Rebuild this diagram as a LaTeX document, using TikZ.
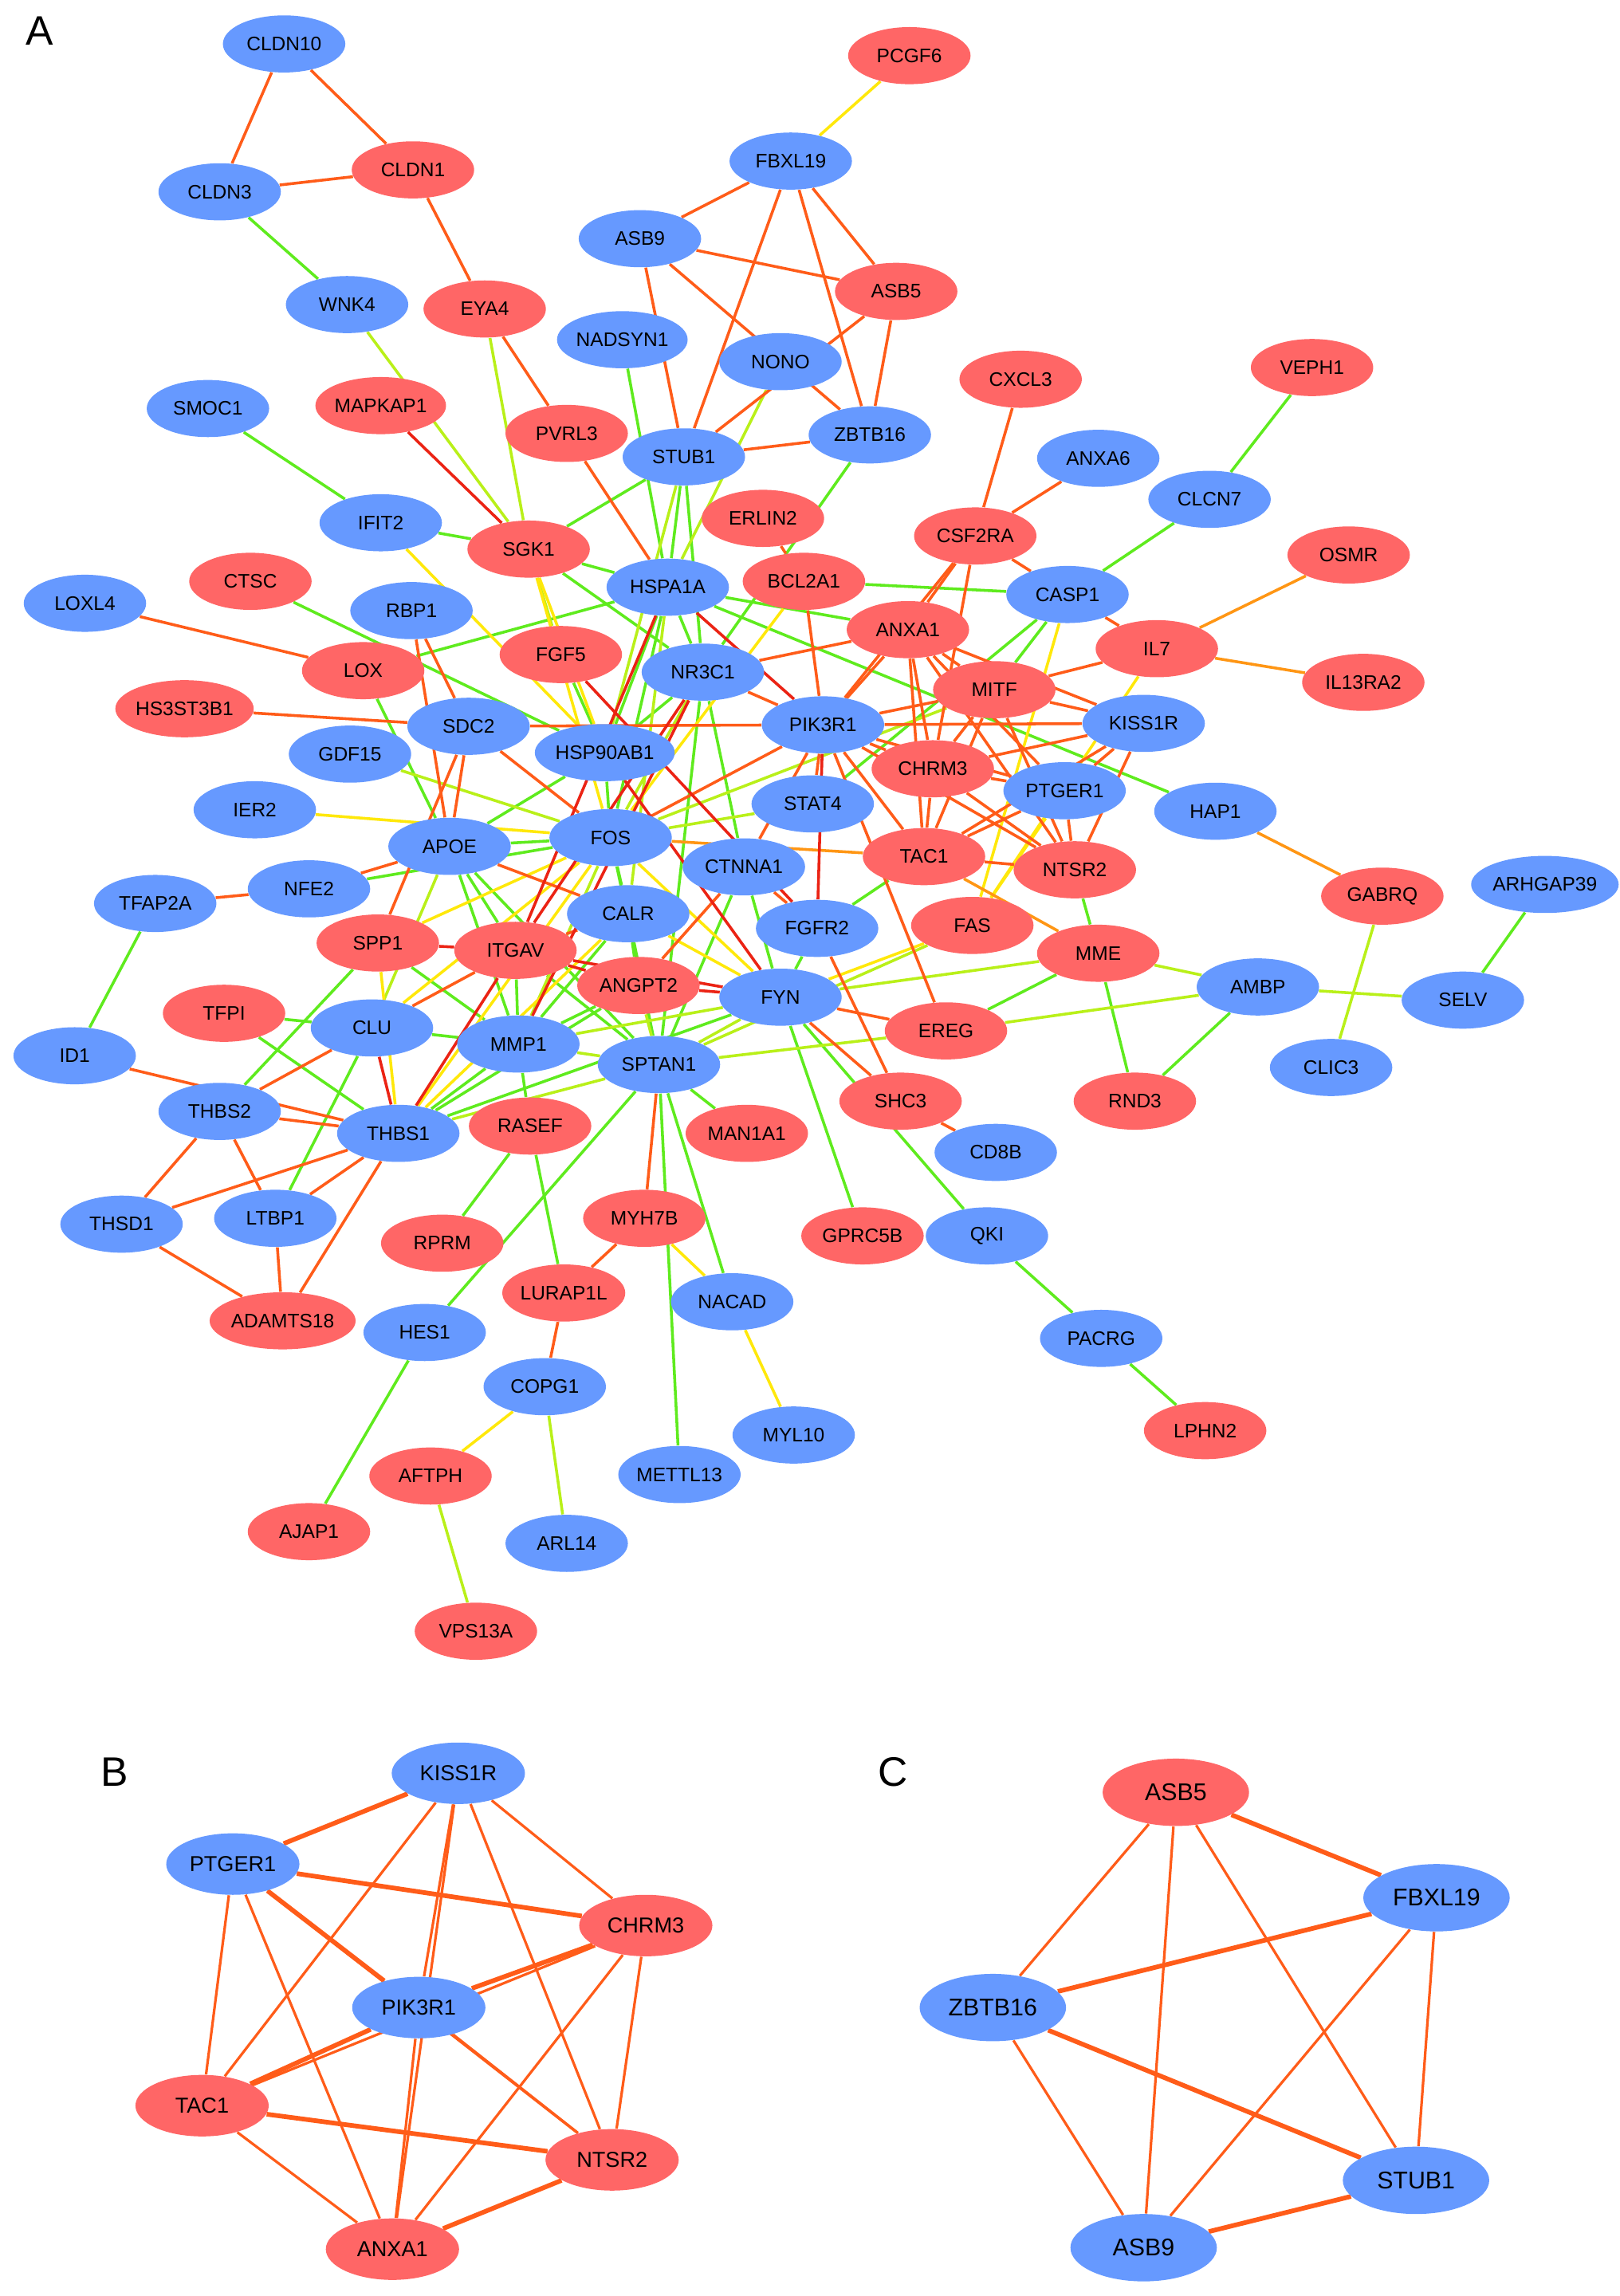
\documentclass[tikz,border=0pt]{standalone}
\usepackage{fontspec}
\setmainfont{Liberation Sans}
\usetikzlibrary{shapes.geometric,backgrounds}
\definecolor{nblue}{RGB}{102,153,255}
\definecolor{nred}{RGB}{255,102,102}
\definecolor{cg}{RGB}{95,235,30}
\definecolor{cyg}{RGB}{185,240,25}
\definecolor{cy}{RGB}{255,232,10}
\definecolor{co}{RGB}{255,92,25}
\definecolor{coy}{RGB}{255,150,20}
\definecolor{cr}{RGB}{235,35,20}
\newcommand\fA{\fontsize{7.6}{8}\selectfont}
\newcommand\fB{\fontsize{8.4}{9}\selectfont}
\newcommand\fC{\fontsize{9.4}{10}\selectfont}
\tikzset{
  na/.style={ellipse,minimum width=1.672cm,minimum height=0.78cm,inner sep=0pt,font=\fA},
  ab/.style={na,fill=nblue}, ar/.style={na,fill=nred},
  nbb/.style={ellipse,minimum width=1.82cm,minimum height=0.84cm,inner sep=0pt,font=\fB},
  bb/.style={nbb,fill=nblue}, br/.style={nbb,fill=nred},
  ncc/.style={ellipse,minimum width=2.0cm,minimum height=0.92cm,inner sep=0pt,font=\fC},
  cb/.style={ncc,fill=nblue}, cc/.style={ncc,fill=nred},
  ea/.style={line width=1.1pt},
  thk/.style={line width=1.8pt,draw=co},
  thn/.style={line width=1.0pt,draw=co},
  plabel/.style={font=\fontsize{16}{18}\selectfont,inner sep=0pt}
}
\begin{document}
\begin{tikzpicture}[x=0.02cm,y=-0.02cm]
\useasboundingbox (0,0) rectangle (1106,1568);
% panel labels
\node[plabel] (lblA) at (27,21) {A};
\node[plabel] (lblB) at (78,1210) {B};
\node[plabel] (lblC) at (610,1210) {C};
% ---------- panel A nodes ----------
\node[ab] (aCLDN10) at (194,30) {CLDN10};
\node[ar] (aPCGF6) at (621,38) {PCGF6};
\node[ab] (aFBXL19) at (540,110) {FBXL19};
\node[ar] (aCLDN1) at (282,116) {CLDN1};
\node[ab] (aCLDN3) at (150,131) {CLDN3};
\node[ab] (aASB9) at (437,163) {ASB9};
\node[ar] (aASB5) at (612,199) {ASB5};
\node[ab] (aWNK4) at (237,208) {WNK4};
\node[ar] (aEYA4) at (331,211) {EYA4};
\node[ab] (aNADSYN1) at (425,232) {NADSYN1};
\node[ab] (aNONO) at (533,247) {NONO};
\node[ar] (aCXCL3) at (697,259) {CXCL3};
\node[ar] (aVEPH1) at (896,251) {VEPH1};
\node[ab] (aSMOC1) at (142,279) {SMOC1};
\node[ar] (aMAPKAP1) at (260,277) {MAPKAP1};
\node[ar] (aPVRL3) at (387,296) {PVRL3};
\node[ab] (aZBTB16) at (594,297) {ZBTB16};
\node[ab] (aSTUB1) at (467,312) {STUB1};
\node[ab] (aANXA6) at (750,313) {ANXA6};
\node[ab] (aCLCN7) at (826,341) {CLCN7};
\node[ab] (aIFIT2) at (260,357) {IFIT2};
\node[ar] (aERLIN2) at (521,354) {ERLIN2};
\node[ar] (aCSF2RA) at (666,366) {CSF2RA};
\node[ar] (aSGK1) at (361,375) {SGK1};
\node[ar] (aOSMR) at (921,379) {OSMR};
\node[ar] (aCTSC) at (171,397) {CTSC};
\node[ar] (aBCL2A1) at (549,397) {BCL2A1};
\node[ab] (aHSPA1A) at (456,401) {HSPA1A};
\node[ab] (aCASP1) at (729,406) {CASP1};
\node[ab] (aLOXL4) at (58,412) {LOXL4};
\node[ab] (aRBP1) at (281,417) {RBP1};
\node[ar] (aANXA1) at (620,430) {ANXA1};
\node[ar] (aFGF5) at (383,447) {FGF5};
\node[ar] (aIL7) at (790,443) {IL7};
\node[ar] (aLOX) at (248,458) {LOX};
\node[ab] (aNR3C1) at (480,459) {NR3C1};
\node[ar] (aMITF) at (679,471) {MITF};
\node[ar] (aIL13RA2) at (931,466) {IL13RA2};
\node[ar] (aHS3ST3B1) at (126,484) {HS3ST3B1};
\node[ab] (aSDC2) at (320,496) {SDC2};
\node[ab] (aPIK3R1) at (562,495) {PIK3R1};
\node[ab] (aKISS1R) at (781,494) {KISS1R};
\node[ab] (aHSP90AB1) at (413,514) {HSP90AB1};
\node[ab] (aGDF15) at (239,515) {GDF15};
\node[ar] (aCHRM3) at (637,525) {CHRM3};
\node[ab] (aPTGER1) at (727,540) {PTGER1};
\node[ab] (aSTAT4) at (555,549) {STAT4};
\node[ab] (aIER2) at (174,553) {IER2};
\node[ab] (aHAP1) at (830,554) {HAP1};
\node[ab] (aAPOE) at (307,578) {APOE};
\node[ab] (aFOS) at (417,572) {FOS};
\node[ar] (aTAC1) at (631,585) {TAC1};
\node[ab] (aCTNNA1) at (508,592) {CTNNA1};
\node[ar] (aNTSR2) at (734,594) {NTSR2};
\node[ab] (aNFE2) at (211,607) {NFE2};
\node[ab] (aTFAP2A) at (106,617) {TFAP2A};
\node[ar] (aGABRQ) at (944,612) {GABRQ};
\node[ab] (aARHGAP39) at (1055,604) {ARHGAP39};
\node[ab] (aCALR) at (429,624) {CALR};
\node[ab] (aFGFR2) at (558,634) {FGFR2};
\node[ar] (aFAS) at (664,632) {FAS};
\node[ar] (aSPP1) at (258,644) {SPP1};
\node[ar] (aITGAV) at (352,649) {ITGAV};
\node[ar] (aMME) at (750,651) {MME};
\node[ar] (aANGPT2) at (436,673) {ANGPT2};
\node[ab] (aFYN) at (533,681) {FYN};
\node[ab] (aAMBP) at (859,674) {AMBP};
\node[ab] (aSELV) at (999,683) {SELV};
\node[ar] (aTFPI) at (153,692) {TFPI};
\node[ab] (aCLU) at (254,702) {CLU};
\node[ar] (aEREG) at (646,704) {EREG};
\node[ab] (aID1) at (51,721) {ID1};
\node[ab] (aMMP1) at (354,713) {MMP1};
\node[ab] (aSPTAN1) at (450,727) {SPTAN1};
\node[ab] (aCLIC3) at (909,729) {CLIC3};
\node[ab] (aTHBS2) at (150,759) {THBS2};
\node[ar] (aSHC3) at (615,752) {SHC3};
\node[ar] (aRND3) at (775,752) {RND3};
\node[ab] (aTHBS1) at (272,774) {THBS1};
\node[ar] (aRASEF) at (362,769) {RASEF};
\node[ar] (aMAN1A1) at (510,774) {MAN1A1};
\node[ab] (aCD8B) at (680,787) {CD8B};
\node[ab] (aTHSD1) at (83,836) {THSD1};
\node[ab] (aLTBP1) at (188,832) {LTBP1};
\node[ar] (aMYH7B) at (440,832) {MYH7B};
\node[ar] (aGPRC5B) at (589,844) {GPRC5B};
\node[ab] (aQKI) at (674,844) {QKI};
\node[ar] (aRPRM) at (302,849) {RPRM};
\node[ar] (aLURAP1L) at (385,883) {LURAP1L};
\node[ab] (aNACAD) at (500,889) {NACAD};
\node[ar] (aADAMTS18) at (193,902) {ADAMTS18};
\node[ab] (aHES1) at (290,910) {HES1};
\node[ab] (aPACRG) at (752,914) {PACRG};
\node[ab] (aCOPG1) at (372,947) {COPG1};
\node[ar] (aLPHN2) at (823,977) {LPHN2};
\node[ab] (aMYL10) at (542,980) {MYL10};
\node[ar] (aAFTPH) at (294,1008) {AFTPH};
\node[ab] (aMETTL13) at (464,1007) {METTL13};
\node[ar] (aAJAP1) at (211,1046) {AJAP1};
\node[ab] (aARL14) at (387,1054) {ARL14};
\node[ar] (aVPS13A) at (325,1114) {VPS13A};
% ---------- panel B nodes ----------
\node[bb] (bKISS1R) at (313,1211) {KISS1R};
\node[bb] (bPTGER1) at (159,1273) {PTGER1};
\node[br] (bCHRM3) at (441,1315) {CHRM3};
\node[bb] (bPIK3R1) at (286,1371) {PIK3R1};
\node[br] (bTAC1) at (138,1438) {TAC1};
\node[br] (bNTSR2) at (418,1475) {NTSR2};
\node[br] (bANXA1) at (268,1536) {ANXA1};
% ---------- panel C nodes ----------
\node[cc] (cASB5) at (803,1224) {ASB5};
\node[cb] (cFBXL19) at (981,1296) {FBXL19};
\node[cb] (cZBTB16) at (678,1371) {ZBTB16};
\node[cb] (cSTUB1) at (967,1489) {STUB1};
\node[cb] (cASB9) at (781,1535) {ASB9};
% ---------- edges ----------
\begin{pgfonlayer}{background}
\fill[white] (0,0) rectangle (1106,1568);
% green
\foreach \u/\v in {CLDN3/WNK4, NADSYN1/HSPA1A, SMOC1/IFIT2, IFIT2/SGK1, STUB1/SGK1, STUB1/HSPA1A, STUB1/NR3C1, ZBTB16/NR3C1, BCL2A1/CASP1, CLCN7/VEPH1, CLCN7/CASP1, CASP1/MITF, CASP1/STAT4, HSPA1A/HAP1, HSPA1A/ANXA1, SGK1/HSPA1A, FGF5/HSP90AB1, SGK1/NR3C1, HSPA1A/NR3C1, HSPA1A/HSP90AB1, HSPA1A/FOS, NR3C1/HSP90AB1, NR3C1/CTNNA1, NR3C1/SPTAN1, HSP90AB1/FOS, HSP90AB1/APOE, CTSC/HSP90AB1, LOX/HSPA1A, LOX/APOE, TFAP2A/ID1, APOE/FOS, APOE/ITGAV, APOE/MMP1, APOE/SPTAN1, NFE2/FOS, SPP1/MMP1, SPP1/THBS2, ITGAV/MMP1, ITGAV/SPTAN1, CALR/FOS, CALR/ANGPT2, CALR/SPTAN1, CALR/MMP1, ANGPT2/MMP1, FOS/SPTAN1, CTNNA1/FYN, CTNNA1/SPTAN1, FGFR2/FYN, TAC1/FGFR2, FYN/QKI, FYN/GPRC5B, SPTAN1/MAN1A1, SPTAN1/NACAD, SPTAN1/METTL13, SPTAN1/HES1, RASEF/MMP1, RASEF/RPRM, RASEF/LURAP1L, MMP1/CLU, MMP1/THBS1, CLU/TFPI, CLU/LTBP1, TFPI/THBS1, HES1/AJAP1, QKI/PACRG, PACRG/LPHN2, SELV/ARHGAP39, AMBP/RND3, MME/RND3, MME/EREG, NTSR2/MME, THBS1/ANGPT2, FYN/THBS1}
  \draw[ea,cg] (a\u) -- (a\v);
% yellow-green
\foreach \u/\v in {WNK4/SGK1, EYA4/SGK1, NONO/HSPA1A, STUB1/HSP90AB1, SGK1/FGF5, NR3C1/FOS, FOS/STAT4, FOS/MITF, GDF15/FOS, APOE/CLU, FOS/MMP1, ANGPT2/SPTAN1, FYN/MMP1, FYN/MME, MMP1/SPTAN1, SPTAN1/EREG, THBS1/SPTAN1, COPG1/ARL14, AFTPH/VPS13A, GABRQ/CLIC3, AMBP/SELV, AMBP/MME, AMBP/EREG, FYN/SPTAN1, SPTAN1/FAS, HSPA1A/CALR}
  \draw[ea,cyg] (a\u) -- (a\v);
% yellow
\foreach \u/\v in {PCGF6/FBXL19, IFIT2/HSP90AB1, SGK1/HSP90AB1, SGK1/FOS, BCL2A1/FOS, CASP1/FAS, IL7/FAS, PTGER1/FAS, FOS/FYN, SPP1/FOS, SPP1/THBS1, FOS/CLU, FOS/THBS1, CALR/THBS1, CALR/FYN, IER2/FOS, COPG1/AFTPH, MYH7B/NACAD, NACAD/MYL10, FYN/FAS}
  \draw[ea,cy] (a\u) -- (a\v);
% light orange
\foreach \u/\v in {OSMR/IL7, IL7/IL13RA2, HAP1/GABRQ, TAC1/MME, FOS/TAC1}
  \draw[ea,coy] (a\u) -- (a\v);
% orange
\foreach \u/\v in {CLDN10/CLDN3, CLDN10/CLDN1, CLDN3/CLDN1, CLDN1/EYA4, FBXL19/ASB9, FBXL19/ASB5, FBXL19/STUB1, FBXL19/ZBTB16, ASB9/ASB5, ASB9/ZBTB16, ASB9/STUB1, ASB5/STUB1, ASB5/ZBTB16, STUB1/ZBTB16, EYA4/PVRL3, PVRL3/HSPA1A, ERLIN2/BCL2A1, CSF2RA/CXCL3, CSF2RA/ANXA6, CSF2RA/CASP1, CASP1/IL7, CSF2RA/ANXA1, CSF2RA/CHRM3, CSF2RA/PIK3R1, IL7/MITF, MITF/KISS1R, MITF/ANXA1, MITF/PIK3R1, MITF/NTSR2, MITF/TAC1, MITF/CHRM3, KISS1R/PTGER1, KISS1R/CHRM3, KISS1R/TAC1, KISS1R/PIK3R1, KISS1R/ANXA1, KISS1R/NTSR2, PTGER1/CHRM3, PTGER1/PIK3R1, PTGER1/TAC1, PTGER1/ANXA1, PTGER1/NTSR2, CHRM3/PIK3R1, CHRM3/TAC1, CHRM3/ANXA1, CHRM3/NTSR2, TAC1/NTSR2, TAC1/ANXA1, TAC1/PIK3R1, ANXA1/PIK3R1, ANXA1/NTSR2, PIK3R1/NTSR2, ANXA1/NR3C1, BCL2A1/PIK3R1, NR3C1/PIK3R1, SDC2/PIK3R1, SDC2/FOS, PIK3R1/STAT4, PIK3R1/CTNNA1, PIK3R1/FOS, PIK3R1/EREG, LOXL4/LOX, RBP1/SDC2, RBP1/APOE, HS3ST3B1/SDC2, SDC2/APOE, SDC2/SPP1, NFE2/APOE, TFAP2A/NFE2, APOE/CALR, ITGAV/CLU, ITGAV/CALR, ANGPT2/CTNNA1, CTNNA1/FGFR2, FGFR2/SHC3, FYN/EREG, FYN/SHC3, SPTAN1/MYH7B, MYH7B/LURAP1L, CLU/THBS2, ID1/THBS1, THBS2/THBS1, THBS2/THSD1, THBS2/LTBP1, THSD1/THBS1, THSD1/ADAMTS18, LTBP1/THBS1, LTBP1/ADAMTS18, THBS1/ADAMTS18, COPG1/LURAP1L, SHC3/CD8B}
  \draw[ea,co] (a\u) -- (a\v);
% red
\foreach \u/\v in {MAPKAP1/SGK1, HSPA1A/PIK3R1, HSPA1A/ITGAV, NR3C1/MMP1, NR3C1/ITGAV, FGF5/FGFR2, HSP90AB1/FYN, PIK3R1/FGFR2, SPP1/ITGAV, ITGAV/THBS1, ITGAV/ANGPT2, ITGAV/FYN, ANGPT2/FYN, CLU/THBS1}
  \draw[ea,cr] (a\u) -- (a\v);
% panel B
\foreach \u/\v in {KISS1R/PTGER1, PTGER1/CHRM3, CHRM3/PIK3R1, PIK3R1/TAC1, TAC1/NTSR2, PTGER1/PIK3R1, NTSR2/ANXA1}
  \draw[thk] (b\u) -- (b\v);
\foreach \u/\v in {KISS1R/CHRM3, KISS1R/TAC1, KISS1R/PIK3R1, KISS1R/ANXA1, KISS1R/NTSR2, PTGER1/TAC1, PTGER1/ANXA1, PTGER1/NTSR2, CHRM3/TAC1, CHRM3/ANXA1, CHRM3/NTSR2, TAC1/ANXA1, PIK3R1/ANXA1, PIK3R1/NTSR2}
  \draw[thn] (b\u) -- (b\v);
% panel C
\foreach \u/\v in {ASB5/FBXL19, FBXL19/ZBTB16, ZBTB16/STUB1, STUB1/ASB9}
  \draw[thk] (c\u) -- (c\v);
\foreach \u/\v in {ASB5/ZBTB16, ASB5/STUB1, ASB5/ASB9, FBXL19/STUB1, FBXL19/ASB9, ZBTB16/ASB9}
  \draw[thn] (c\u) -- (c\v);
\end{pgfonlayer}
\end{tikzpicture}
\end{document}
